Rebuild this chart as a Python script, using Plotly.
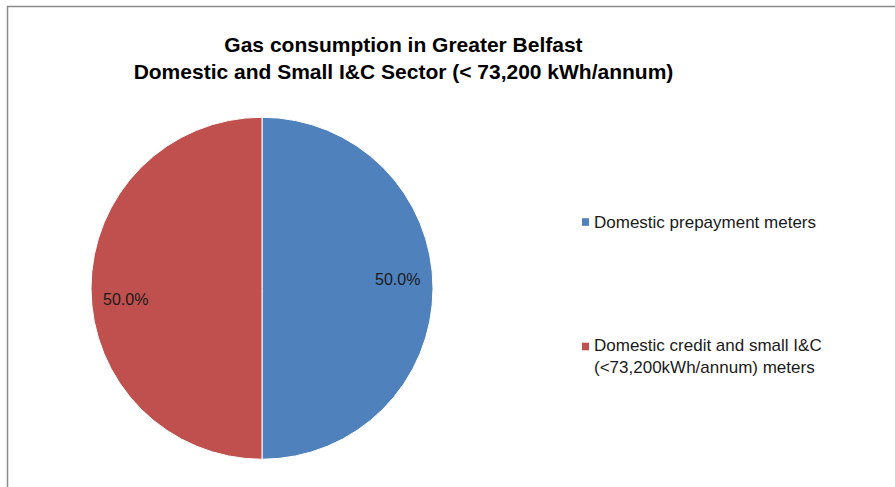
import plotly.graph_objects as go

# ---- data ----
labels = [
    "Domestic prepayment meters",
    "Domestic credit and small I&C<br>(<73,200kWh/annum) meters",
]
values = [50.0, 50.0]
colors = ["#4F81BD", "#C0504D"]
title_lines = [
    "Gas consumption in Greater Belfast",
    "Domestic and Small I&C Sector (< 73,200 kWh/annum)",
]

W, H = 895, 487
FONT = "Liberation Sans, Arial, sans-serif"

fig = go.Figure()
fig.add_trace(go.Pie(
    labels=labels,
    values=values,
    sort=False,
    direction="clockwise",
    rotation=0,
    marker=dict(colors=colors, line=dict(color="white", width=1)),
    textinfo="none",
    hoverinfo="label+percent",
    domain=dict(x=[91 / W, 433 / W], y=[(H - 459.5) / H, (H - 117) / H]),
    showlegend=False,
))

# percentage labels computed from the values
total = sum(values)
pct = [f"{v / total * 100:.1f}%" for v in values]
label_pos = [(397, 279), (126, 299)]
for txt, (px, py) in zip(pct, label_pos):
    fig.add_annotation(
        text=txt, x=px / W, y=1 - py / H, xref="paper", yref="paper",
        showarrow=False, xanchor="center", yanchor="middle",
        font=dict(family=FONT, size=16, color="#1a1a1a"),
    )

# legend (swatch + text) drawn with shapes/annotations so spacing matches
legend_rows = [(222, 222), (346.5, 356)]  # (swatch centre y, text centre y)
for lab, col, (sy, ty) in zip(labels, colors, legend_rows):
    fig.add_shape(type="rect", xref="paper", yref="paper",
                  x0=582 / W, x1=589 / W, y0=1 - (sy + 3.8) / H, y1=1 - (sy - 3.8) / H,
                  fillcolor=col, line=dict(width=0))
    fig.add_annotation(
        text=lab, x=592 / W, y=1 - ty / H, xref="paper", yref="paper",
        showarrow=False, xanchor="left", yanchor="middle", align="left",
        font=dict(family=FONT, size=17, color="#1a1a1a"),
    )

# chart border (only top and left edges visible in the frame)
fig.add_shape(type="rect", xref="paper", yref="paper",
              x0=7.5 / W, y0=-0.05, x1=1.05, y1=1 - 6.5 / H,
              line=dict(color="#8a8a8a", width=1.5))

fig.update_layout(
    width=W, height=H,
    margin=dict(l=0, r=0, t=0, b=0),
    paper_bgcolor="white",
    plot_bgcolor="white",
    showlegend=False,
    title=dict(
        text="<b>" + "<br>".join(title_lines) + "</b>",
        x=403.5 / W, xanchor="center",
        y=1 - 52 / H, yanchor="top",
        font=dict(family=FONT, size=21, color="#000000"),
    ),
)

fig.write_html("out.html", config={"displayModeBar": False},
               post_script="document.body.style.margin='0';")
